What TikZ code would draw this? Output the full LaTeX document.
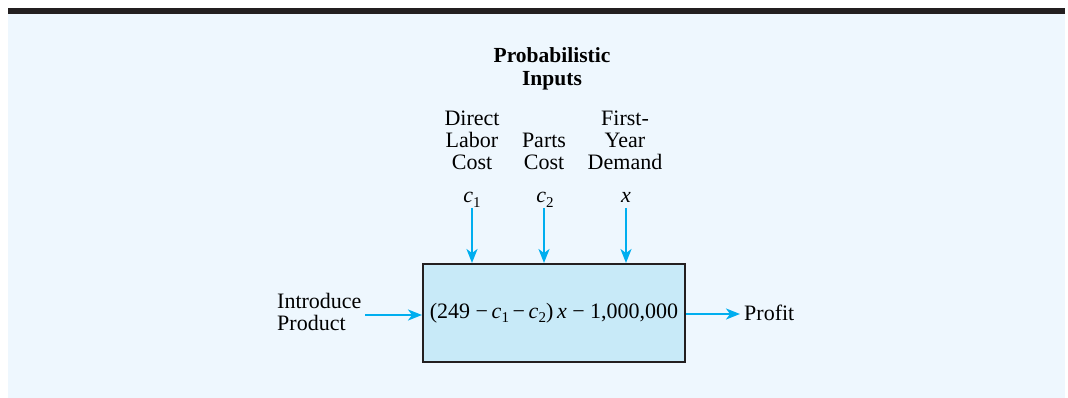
\documentclass[tikz,border=0pt]{standalone}
\usepackage{fontspec}
\setmainfont{Liberation Serif}
\usetikzlibrary{arrows.meta}
\definecolor{barblack}{HTML}{231F20}
\definecolor{panelblue}{HTML}{EEF7FE}
\definecolor{boxblue}{HTML}{C8EAF8}
\definecolor{arrowcyan}{HTML}{00AEEF}
\newcommand{\mysub}[1]{\raisebox{-0.2em}{\fontsize{15}{15}\selectfont #1}}
\tikzset{
  lbl/.style={font=\fontsize{22}{22}\selectfont, inner sep=0pt, align=center},
  ttl/.style={font=\fontsize{21.5}{23}\selectfont\bfseries, inner sep=0pt, align=center},
  var/.style={font=\fontsize{22}{22}\selectfont, inner sep=1pt, anchor=base},
  flowarrow/.style={draw=arrowcyan, line width=2pt, -{Stealth[length=14pt,width=11pt,inset=4pt]}},
  modelbox/.style={draw=barblack, fill=boxblue, line width=2pt, minimum width=262pt, minimum height=98pt, inner sep=0pt, font=\fontsize{22}{22}\selectfont}
}
\begin{document}
\begin{tikzpicture}[x=1pt,y=-1pt]
\useasboundingbox (0,0) rectangle (1068,398);
\fill[panelblue] (8,14) rectangle (1065,398);
\fill[barblack] (8,8) rectangle (1065,14);

\node[ttl, anchor=north] (title) at (552,47) {Probabilistic\\Inputs};
\node[lbl, anchor=north] (dlc) at (472,111) {Direct\\Labor\\Cost};
\node[lbl, anchor=north] (pc) at (544,133) {Parts\\Cost};
\node[lbl, anchor=north] (fyd) at (625,111) {First-\\Year\\Demand};

\node[var] (c1) at (472,203) {\textit{c}\mysub{1}};
\node[var] (c2) at (545,203) {\textit{c}\mysub{2}};
\node[var] (x) at (626,203) {\textit{x}};

\node[modelbox] (box) at (554,313) {(249 −\,\textit{c}\mysub{1}\,−\,\textit{c}\mysub{2})\,\textit{x} − 1,000,000};

\node[lbl, align=left, anchor=north west, inner sep=1pt] (intro) at (276,292) {Introduce\\Product};
\node[var, anchor=base west] (profit) at (743,320) {Profit};

\coordinate (c1s) at (472,208);
\coordinate (c2s) at (544,208);
\coordinate (xs) at (626,208);
\coordinate (ins) at (365,315);
\coordinate (outs) at (740,314);

\draw[flowarrow] (c1s) -- (c1s |- box.north);
\draw[flowarrow] (c2s) -- (c2s |- box.north);
\draw[flowarrow] (xs) -- (xs |- box.north);
\draw[flowarrow] (ins) -- (ins -| box.west);
\draw[flowarrow] (box.east |- outs) -- (outs);
\end{tikzpicture}
\end{document}
